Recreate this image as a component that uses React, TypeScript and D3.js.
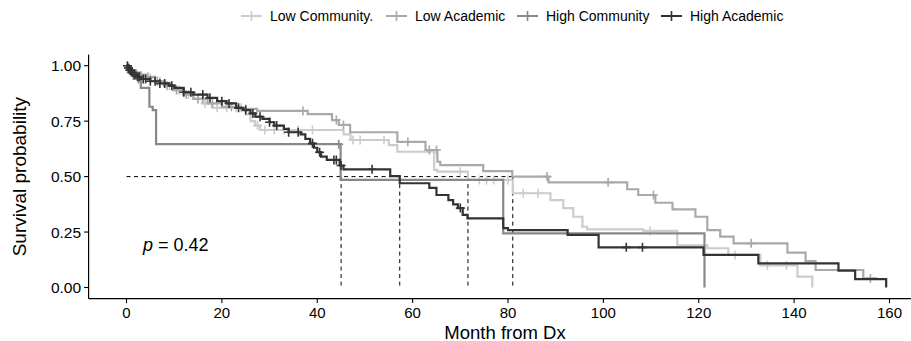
import { useEffect, useRef } from 'react';
import * as d3 from 'd3';

// strata, in drawing order
const groups = ['Low Community.', 'Low Academic', 'High Community', 'High Academic'];
const colors = ['#cccccc', '#a9a9a9', '#888888', '#333333'];

// Kaplan-Meier steps (time in months, survival after the step)
const lowCommTimes = [0, 0.5, 1, 2, 3, 4, 6, 8, 10, 12, 14, 16, 18, 25, 26, 27, 28, 45.5, 47, 55, 56.8, 64.5, 65.2, 71.6, 81, 88.9, 91.6, 93.7, 95.6, 96.6, 108.4, 115.5, 121.8, 126.2, 132.9, 140.7, 143.8];
const lowCommSurv = [1, 0.99, 0.975, 0.965, 0.955, 0.945, 0.93, 0.91, 0.89, 0.87, 0.85, 0.83, 0.81, 0.78, 0.75, 0.73, 0.71, 0.69, 0.665, 0.642, 0.612, 0.53, 0.522, 0.485, 0.425, 0.394, 0.358, 0.319, 0.274, 0.262, 0.255, 0.19, 0.177, 0.147, 0.1, 0.049, 0];
const lowCommCensor = [5, 7, 9, 11, 13, 15, 16.5, 19, 21, 23, 24, 27.5, 29, 31, 33, 36, 39, 47.5, 49, 54, 70, 74, 75.5, 77, 80, 83.2, 86.3, 109.8, 127.6, 134.4, 138.4];

const lowAcadTimes = [0, 0.5, 1, 2, 3, 4, 6, 8, 10, 12, 14, 17, 20, 24, 27.4, 38, 43.1, 44.5, 46.9, 56.8, 62.7, 65.2, 65.8, 74.8, 80.9, 88.5, 105, 107.3, 110.9, 114.5, 119.3, 121.8, 124.5, 127.3, 138.6, 142.4, 144.5, 154.5, 157.5];
const lowAcadSurv = [1, 0.99, 0.98, 0.97, 0.96, 0.95, 0.93, 0.91, 0.89, 0.87, 0.85, 0.83, 0.815, 0.805, 0.796, 0.782, 0.755, 0.733, 0.7, 0.657, 0.62, 0.567, 0.552, 0.525, 0.5, 0.474, 0.443, 0.417, 0.382, 0.352, 0.319, 0.259, 0.229, 0.199, 0.157, 0.119, 0.079, 0.041, 0.041];
const lowAcadCensor = [4.5, 6.5, 8.5, 10.5, 12.5, 15, 16, 18, 22, 25, 37, 44, 45.5, 59, 63.5, 65, 88.2, 101, 110.5, 131, 156];

const highCommTimes = [0, 0.5, 1.5, 3, 4.8, 5.5, 6.2, 44.9, 79, 121.2];
const highCommSurv = [1, 0.97, 0.94, 0.9, 0.815, 0.8, 0.646, 0.485, 0.244, 0];
const highCommCensor = [1, 2.5, 44.5];

const highAcadTimes = [0, 0.3, 0.6, 1, 1.5, 2, 3, 5, 7, 9, 10, 12, 14, 17, 19, 21, 23, 24.5, 26, 27, 28.5, 30, 31, 33, 34, 36.5, 37.5, 38.5, 39.3, 40, 40.8, 42, 44.7, 45.5, 55.3, 57.3, 63.5, 65, 67.5, 68.5, 69.5, 70.5, 71.5, 79, 80, 92.5, 99, 121, 132.5, 149.3, 152.8, 159.3];
const highAcadSurv = [1, 0.99, 0.98, 0.97, 0.96, 0.95, 0.94, 0.93, 0.92, 0.91, 0.9, 0.88, 0.87, 0.855, 0.84, 0.83, 0.81, 0.8, 0.785, 0.77, 0.76, 0.745, 0.73, 0.715, 0.7, 0.69, 0.67, 0.65, 0.63, 0.61, 0.59, 0.575, 0.55, 0.533, 0.502, 0.47, 0.449, 0.417, 0.394, 0.375, 0.358, 0.327, 0.312, 0.268, 0.259, 0.237, 0.181, 0.147, 0.109, 0.076, 0.038, 0];
const highAcadCensor = [0.2, 0.4, 0.7, 0.9, 1.2, 1.7, 2.3, 2.7, 3.5, 4, 5, 6, 7, 8, 9.5, 12, 13.5, 16, 17.5, 20, 21.5, 23.5, 25, 26.5, 28, 30, 31.5, 34, 36, 39, 40.5, 43.5, 44, 45, 51.5, 70, 104.8, 108.2];

const medians = [45, 57.3, 71.6, 81];
const xTicks = [0, 20, 40, 60, 80, 100, 120, 140, 160];
const yTicks = [0, 0.25, 0.5, 0.75, 1];
const pValue = '0.42';

const series = [
    { times: lowCommTimes, surv: lowCommSurv, censor: lowCommCensor },
    { times: lowAcadTimes, surv: lowAcadSurv, censor: lowAcadCensor },
    { times: highCommTimes, surv: highCommSurv, censor: highCommCensor },
    { times: highAcadTimes, surv: highAcadSurv, censor: highAcadCensor },
];

const KMPlot = () => {
    const svgRef = useRef<SVGSVGElement | null>(null);

    useEffect(() => {
        const svg = d3.select(svgRef.current);
        svg.selectAll('*').remove();

        const width = 911;
        const height = 341;
        const font = '"Liberation Sans", Arial, sans-serif';

        const x = d3.scaleLinear().domain([0, 160]).range([126.5, 889.5]);
        const y = d3.scaleLinear().domain([0, 1]).range([287.5, 65.7]);
        const axisY = y(-0.05);
        const axisX = x(-7.95);

        svg.attr('width', width).attr('height', height).attr('font-family', font);

        const stepAt = (s: typeof series[0], t: number) => {
            const i = d3.bisectRight(s.times, t) - 1;
            return s.surv[Math.max(0, i)];
        };

        const line = d3.line<[number, number]>()
            .x(d => x(d[0]))
            .y(d => y(d[1]))
            .curve(d3.curveStepAfter);

        // median reference lines
        const dash = svg.append('g')
            .attr('stroke', '#000')
            .attr('stroke-width', 1)
            .attr('stroke-dasharray', '4,3.5')
            .attr('fill', 'none');
        dash.append('line')
            .attr('x1', x(0)).attr('x2', x(d3.max(medians)!))
            .attr('y1', y(0.5)).attr('y2', y(0.5));
        medians.forEach(m => {
            dash.append('line')
                .attr('x1', x(m)).attr('x2', x(m))
                .attr('y1', y(0.5)).attr('y2', y(0));
        });

        const plus = (cx: number, cy: number, r: number) =>
            `M${cx - r},${cy}H${cx + r}M${cx},${cy - r}V${cy + r}`;

        series.forEach((s, k) => {
            const pts: [number, number][] = s.times.map((t, i) => [t, s.surv[i]]);
            svg.append('path')
                .attr('d', line(pts))
                .attr('fill', 'none')
                .attr('stroke', colors[k])
                .attr('stroke-width', 2.2);
            svg.append('path')
                .attr('d', s.censor.map(t => plus(x(t), y(stepAt(s, t)), 4.5)).join(''))
                .attr('fill', 'none')
                .attr('stroke', colors[k])
                .attr('stroke-width', 1.6);
        });

        // axes
        svg.append('line')
            .attr('x1', axisX).attr('x2', width)
            .attr('y1', axisY).attr('y2', axisY)
            .attr('stroke', '#000').attr('stroke-width', 1.2);
        svg.append('line')
            .attr('x1', axisX).attr('x2', axisX)
            .attr('y1', y(1.05)).attr('y2', axisY)
            .attr('stroke', '#000').attr('stroke-width', 1.2);

        const xt = svg.append('g');
        xTicks.forEach(t => {
            xt.append('line')
                .attr('x1', x(t)).attr('x2', x(t))
                .attr('y1', axisY).attr('y2', axisY + 4.5)
                .attr('stroke', '#000').attr('stroke-width', 1.1);
            xt.append('text')
                .attr('x', x(t)).attr('y', 318)
                .attr('text-anchor', 'middle')
                .attr('font-size', 15)
                .attr('fill', '#000')
                .text(t);
        });

        const yt = svg.append('g');
        yTicks.forEach(t => {
            yt.append('line')
                .attr('x1', axisX - 4.5).attr('x2', axisX)
                .attr('y1', y(t)).attr('y2', y(t))
                .attr('stroke', '#000').attr('stroke-width', 1.1);
            yt.append('text')
                .attr('x', axisX - 7.5).attr('y', y(t))
                .attr('dy', '0.36em')
                .attr('text-anchor', 'end')
                .attr('font-size', 15.5)
                .attr('fill', '#000')
                .text(t.toFixed(2));
        });

        svg.append('text')
            .attr('x', 505).attr('y', 338.5)
            .attr('text-anchor', 'middle')
            .attr('font-size', 18.5)
            .attr('fill', '#000')
            .text('Month from Dx');

        svg.append('text')
            .attr('transform', `translate(26,${(y(1.05) + axisY) / 2}) rotate(-90)`)
            .attr('text-anchor', 'middle')
            .attr('font-size', 19)
            .attr('fill', '#000')
            .text('Survival probability');

        const p = svg.append('text')
            .attr('x', 143).attr('y', 251)
            .attr('font-size', 18)
            .attr('fill', '#000');
        p.append('tspan').attr('font-style', 'italic').text('p');
        p.append('tspan').text(` = ${pValue}`);

        // legend
        const legendX = [241, 386, 517, 661];
        groups.forEach((g, k) => {
            const lx = legendX[k];
            svg.append('line')
                .attr('x1', lx).attr('x2', lx + 21)
                .attr('y1', 16).attr('y2', 16)
                .attr('stroke', colors[k]).attr('stroke-width', 2);
            svg.append('path')
                .attr('d', plus(lx + 10.5, 16, 5))
                .attr('stroke', colors[k]).attr('stroke-width', 1.6);
            svg.append('text')
                .attr('x', lx + 29).attr('y', 16)
                .attr('dy', '0.36em')
                .attr('font-size', 14)
                .attr('fill', '#000')
                .text(g);
        });
    }, []);

    return (
        <svg ref={svgRef} style={{ position: 'absolute', left: 0, top: 0 }}></svg>
    );
};

export default KMPlot;
